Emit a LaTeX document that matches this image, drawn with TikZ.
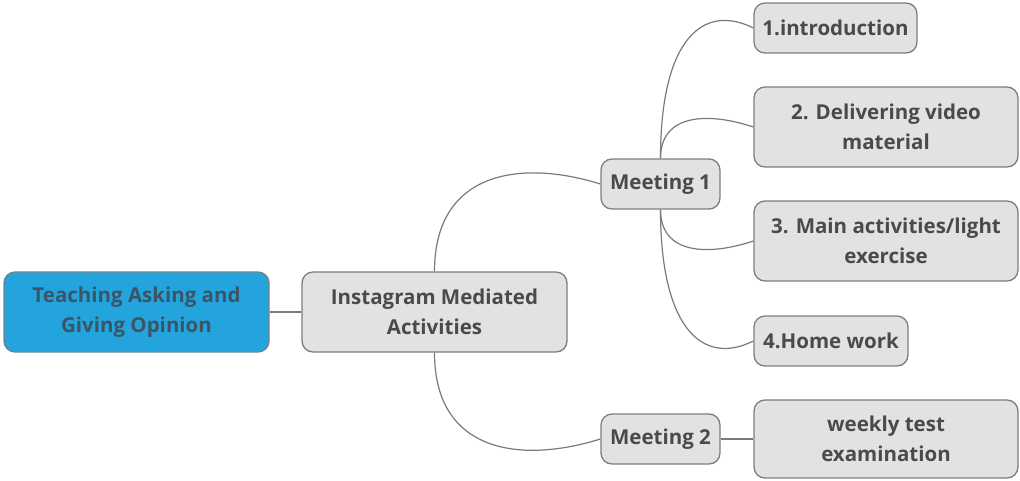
\documentclass[tikz,border=0pt]{standalone}
\usepackage{fontspec}
\setmainfont{Open Sans}
\definecolor{rootblue}{HTML}{24A4DC}
\definecolor{roottext}{HTML}{3B5567}
\definecolor{boxfill}{HTML}{E2E2E2}
\definecolor{boxline}{HTML}{7E7E7E}
\definecolor{txt}{HTML}{4A4A4A}
\definecolor{conn}{HTML}{7A7A7A}
\begin{document}
\begin{tikzpicture}[x=1pt,y=-1pt,
  box/.style={draw=boxline, fill=boxfill, line width=1.3pt, rounded corners=11pt,
    inner sep=0pt, align=center, text=txt, font=\fontsize{20.5}{30}\selectfont\bfseries},
  rootbox/.style={box, fill=rootblue, draw=boxline!80!rootblue, text=roottext},
  link/.style={draw=conn, line width=1.2pt}]
\useasboundingbox (0,0) rectangle (1020,480);
\node[rootbox, minimum width=265pt, minimum height=80pt] (root) at (136.5,312) {Teaching Asking and\\Giving Opinion};
\node[box, minimum width=265pt, minimum height=80pt] (ima) at (434.5,312) {Instagram Mediated\\Activities};
\node[box, minimum width=119pt, minimum height=50pt] (m1) at (660.5,184) {Meeting 1};
\node[box, minimum width=119pt, minimum height=50pt] (m2) at (660.5,439) {Meeting 2};
\node[box, minimum width=163pt, minimum height=50pt] (intro) at (835.5,28) {1.introduction};
\node[box, minimum width=264pt, minimum height=80pt] (deliv) at (886,127) {2. Delivering video\\material};
\node[box, minimum width=264pt, minimum height=80pt] (main) at (886,241) {3. Main activities/light\\exercise};
\node[box, minimum width=154pt, minimum height=50pt] (home) at (831,341) {4.Home work};
\node[box, minimum width=264pt, minimum height=78pt] (weekly) at (886,439) {weekly test\\examination};
\draw[link] (root.east) -- (ima.west);
\draw[link] (ima.north) .. controls +(0,-100) and +(-80,-25) .. (m1.west);
\draw[link] (ima.south) .. controls +(0,100) and +(-80,25) .. (m2.west);
\draw[link] (m1.north) .. controls +(0,-120) and +(-50,-25) .. (intro.west);
\draw[link] (m1.north) .. controls +(0,-45) and +(-45,-15) .. (deliv.west);
\draw[link] (m1.south) .. controls +(0,45) and +(-45,15) .. (main.west);
\draw[link] (m1.south) .. controls +(0,120) and +(-50,25) .. (home.west);
\draw[link] (m2.east) -- (weekly.west);
\end{tikzpicture}
\end{document}
